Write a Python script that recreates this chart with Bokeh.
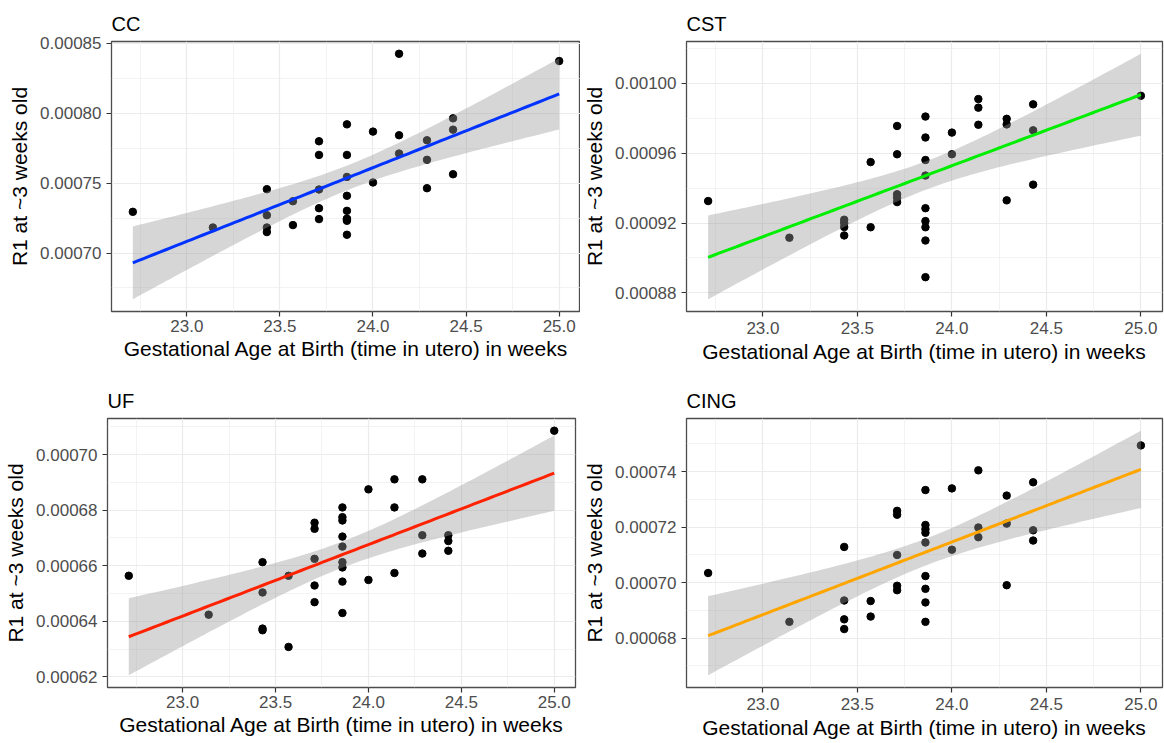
import numpy as np
from bokeh.plotting import figure
from bokeh.layouts import column, row
from bokeh.models import FixedTicker, PrintfTickFormatter, Range1d
from bokeh.embed import file_html
from bokeh.resources import INLINE

# ---------------- data ----------------
gest_age = [22.71, 23.14,
            23.43, 23.43, 23.43, 23.43,
            23.57, 23.57,
            23.71, 23.71, 23.71, 23.71, 23.71,
            23.86, 23.86, 23.86, 23.86, 23.86, 23.86, 23.86, 23.86, 23.86,
            24.00, 24.00,
            24.14, 24.14, 24.14,
            24.29, 24.29, 24.29,
            24.43, 24.43, 24.43,
            25.00]

cc_r1 = [0.0007295, 0.0007183,
         0.0007457, 0.0007271, 0.0007183, 0.0007150,
         0.0007371, 0.0007200,
         0.0007800, 0.0007702, 0.0007455, 0.0007321, 0.0007243,
         0.0007921, 0.0007702, 0.0007545, 0.0007410, 0.0007302, 0.0007243, 0.0007245, 0.0007231, 0.0007131,
         0.0007869, 0.0007505,
         0.0008426, 0.0007843, 0.0007712,
         0.0007807, 0.0007667, 0.0007464,
         0.0007964, 0.0007883, 0.0007564,
         0.0008374]

cst_r1 = [0.0009326, 0.0009116,
          0.0009219, 0.0009200, 0.0009177, 0.0009129,
          0.0009549, 0.0009176,
          0.0009756, 0.0009594, 0.0009365, 0.0009345, 0.0009320,
          0.0009810, 0.0009690, 0.0009561, 0.0009472, 0.0009285, 0.0009211, 0.0009176, 0.0009100, 0.0008890,
          0.0009718, 0.0009594,
          0.0009910, 0.0009861, 0.0009763,
          0.0009797, 0.0009765, 0.0009330,
          0.0009880, 0.0009731, 0.0009420,
          0.0009929]

uf_r1 = [0.0006564, 0.0006424,
         0.0006613, 0.0006504, 0.0006374, 0.0006368,
         0.0006564, 0.0006308,
         0.0006755, 0.0006733, 0.0006625, 0.0006529, 0.0006469,
         0.0006810, 0.0006775, 0.0006763, 0.0006705, 0.0006669, 0.0006613, 0.0006594, 0.0006543, 0.0006430,
         0.0006875, 0.0006549,
         0.0006911, 0.0006810, 0.0006574,
         0.0006911, 0.0006710, 0.0006644,
         0.0006710, 0.0006689, 0.0006654,
         0.0007086]

cing_r1 = [0.0007035, 0.0006859,
           0.0007129, 0.0006936, 0.0006868, 0.0006833,
           0.0006934, 0.0006878,
           0.0007259, 0.0007245, 0.0007100, 0.0006989, 0.0006973,
           0.0007334, 0.0007208, 0.0007193, 0.0007180, 0.0007145, 0.0007024, 0.0006978, 0.0006929, 0.0006859,
           0.0007340, 0.0007119,
           0.0007405, 0.0007199, 0.0007164,
           0.0007314, 0.0007213, 0.0006991,
           0.0007362, 0.0007189, 0.0007152,
           0.0007495]

panel_titles = ["CC", "CST", "UF", "CING"]
line_colors = ["#0033FF", "#00EE00", "#FF2200", "#FFA500"]

x_ticks = [23.0, 23.5, 24.0, 24.5, 25.0]
cc_ticks = [0.00070, 0.00075, 0.00080, 0.00085]
cst_ticks = [0.00088, 0.00092, 0.00096, 0.00100]
uf_ticks = [0.00062, 0.00064, 0.00066, 0.00068, 0.00070]
cing_ticks = [0.00068, 0.00070, 0.00072, 0.00074]

x_title = "Gestational Age at Birth (time in utero) in weeks"
y_title = "R1 at ~3 weeks old"

T_975_DF32 = 2.0369  # t quantile for a 95% CI with n-2 = 32 df


def minors(ticks):
    step = ticks[1] - ticks[0]
    return [t - step / 2 for t in ticks] + [ticks[-1] + step / 2]


def make_panel(title, yvals, color, yticks, width, height, mbl, mbr, mbt, mbb,
               xlab_stand, xtitle_stand):
    x = np.asarray(gest_age, dtype=float)
    y = np.asarray(yvals, dtype=float)
    n = len(x)
    slope, intercept = np.polyfit(x, y, 1)
    resid = y - (slope * x + intercept)
    s = np.sqrt(np.sum(resid ** 2) / (n - 2))
    xbar = x.mean()
    sxx = np.sum((x - xbar) ** 2)
    xs = np.linspace(x.min(), x.max(), 80)
    yhat = slope * xs + intercept
    se = s * np.sqrt(1.0 / n + (xs - xbar) ** 2 / sxx)
    lo = yhat - T_975_DF32 * se
    hi = yhat + T_975_DF32 * se

    xr = x.max() - x.min()
    ymin = min(y.min(), lo.min())
    ymax = max(y.max(), hi.max())
    yr = ymax - ymin

    p = figure(width=width, height=height,
               x_range=Range1d(x.min() - 0.05 * xr, x.max() + 0.05 * xr),
               y_range=Range1d(ymin - 0.05 * yr, ymax + 0.05 * yr),
               min_border_left=mbl, min_border_right=mbr,
               min_border_top=mbt, min_border_bottom=mbb,
               toolbar_location=None, output_backend="svg",
               background_fill_color="white", border_fill_color="white")

    p.title.text = title
    p.title.text_font = "Liberation Sans"
    p.title.text_font_size = "20px"
    p.title.text_font_style = "normal"
    p.title.text_color = "black"
    p.title.align = "left"
    p.title.standoff = 14

    p.outline_line_color = "#4D4D4D"
    p.outline_line_width = 1.3

    p.xaxis.ticker = FixedTicker(ticks=x_ticks, minor_ticks=minors(x_ticks))
    p.yaxis.ticker = FixedTicker(ticks=yticks, minor_ticks=minors(yticks))
    p.xaxis.formatter = PrintfTickFormatter(format="%.1f")
    p.yaxis.formatter = PrintfTickFormatter(format="%.5f")
    p.xaxis.axis_label = x_title
    p.yaxis.axis_label = y_title

    for ax in (p.xaxis[0], p.yaxis[0]):
        ax.axis_line_color = None
        ax.major_tick_line_color = "#333333"
        ax.major_tick_line_width = 1.2
        ax.major_tick_out = 5
        ax.major_tick_in = 0
        ax.minor_tick_line_color = None
        ax.major_label_text_font = "Liberation Sans"
        ax.major_label_text_font_size = "17px"
        ax.major_label_text_color = "#4D4D4D"
        ax.axis_label_text_font = "Liberation Sans"
        ax.axis_label_text_font_size = "21px"
        ax.axis_label_text_font_style = "normal"
        ax.axis_label_text_color = "black"
    p.xaxis[0].major_label_standoff = xlab_stand
    p.xaxis[0].axis_label_standoff = xtitle_stand
    p.yaxis[0].major_label_standoff = 5
    p.yaxis[0].axis_label_standoff = 6

    for g in (p.xgrid[0], p.ygrid[0]):
        g.grid_line_color = "#EBEBEB"
        g.grid_line_width = 1.2
        g.minor_grid_line_color = "#EBEBEB"
        g.minor_grid_line_width = 0.6

    p.scatter(x, y, size=7.5, color="black")
    p.varea(x=xs, y1=lo, y2=hi, fill_color="#999999", fill_alpha=0.4)
    p.line(xs, yhat, line_color=color, line_width=3)
    return p


cc = make_panel(panel_titles[0], cc_r1, line_colors[0], cc_ticks, 580, 378, 111, 0, 41, 67, 3, 2)
cst = make_panel(panel_titles[1], cst_r1, line_colors[1], cst_ticks, 584, 378, 104, 2, 41, 63, 5, 3)
uf = make_panel(panel_titles[2], uf_r1, line_colors[2], uf_ticks, 580, 365, 107, 5, 39, 56, 3, 2)
cing = make_panel(panel_titles[3], cing_r1, line_colors[3], cing_ticks, 584, 365, 104, 2, 40, 56, 5, 3)

layout = column(row(cc, cst), row(uf, cing))

open("out.html", "w").write(file_html(layout, INLINE))
